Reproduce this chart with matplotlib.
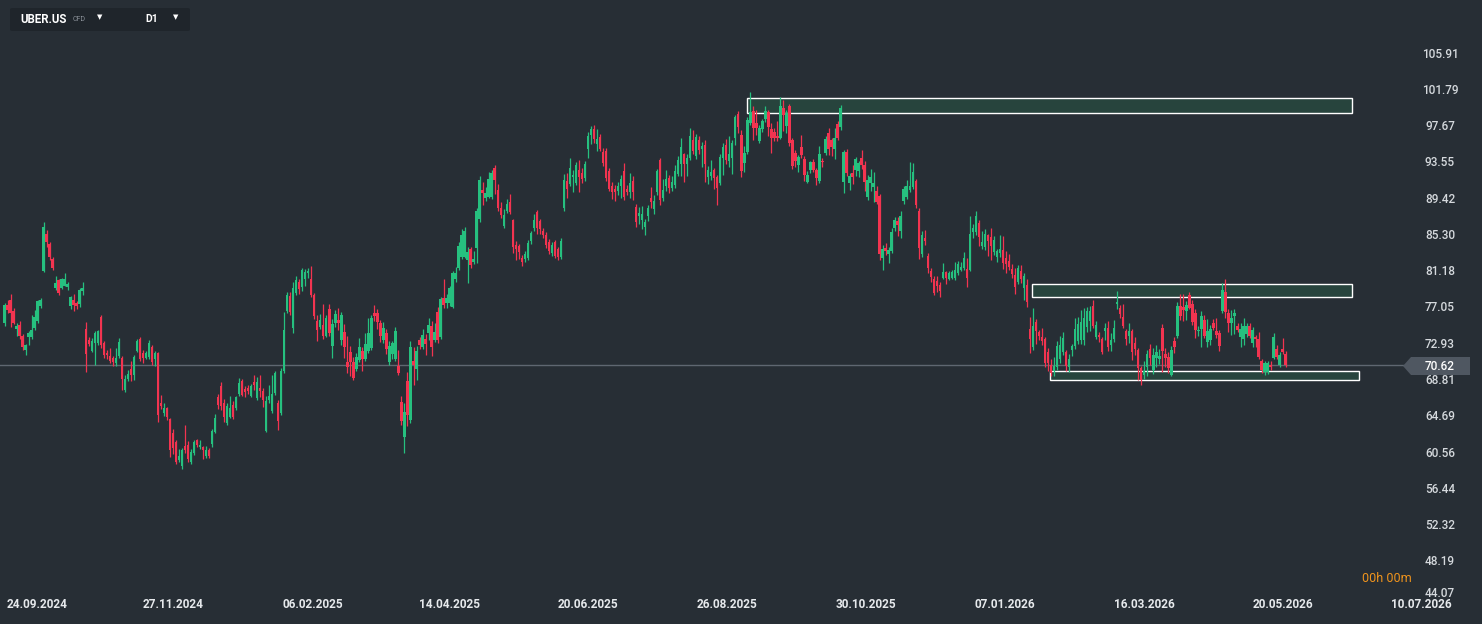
import matplotlib
matplotlib.use("Agg")
import matplotlib.pyplot as plt
import numpy as np
from matplotlib.patches import Rectangle, FancyBboxPatch, Polygon

# daily candles (oldest -> newest)
opens = [
    75.4, 77.4, 78.0, 76.7, 74.7, 75.1, 73.9, 72.3, 73.7, 73.7,
    74.8, 75.6, 77.3, 81.25, 85.45, 84.3, 82.6, 79.3, 80.2, 79.3,
    79.6, 79.4, 77.3, 77.95, 77.6, 77.5, 79.0, 74.7, 73.4, 72.2,
    73.1, 73.1, 76.0, 73.1, 71.9, 71.6, 71.4, 70.8, 71.6, 71.4,
    67.7, 69.0, 70.1, 69.4, 72.2, 73.5, 71.9, 71.4, 71.5, 72.6,
    71.3, 71.9, 66.3, 65.1, 65.7, 64.4, 62.8, 61.8, 59.8, 59.1,
    61.4, 61.5, 59.55, 60.6, 62.0, 61.2, 61.2, 60.2, 60.9, 61.6,
    63.0, 66.9, 68.2, 66.25, 63.96, 64.7, 66.0, 65.7, 67.3, 68.8,
    67.8, 68.0, 67.05, 68.6, 66.8, 68.0, 67.6, 63.07, 66.6, 65.35,
    67.4, 66.25, 65.1, 69.9, 76.7, 78.4, 74.8, 78.75, 80.0, 79.4,
    80.3, 81.0, 80.4, 78.5, 75.6, 74.9, 75.1, 73.9, 76.9, 72.7,
    75.3, 75.7, 73.4, 74.3, 70.9, 72.0, 70.9, 70.1, 71.1, 72.2,
    71.25, 72.2, 72.5, 76.5, 76.5, 75.35, 73.4, 74.2, 70.9, 71.8,
    71.25, 70.45, 66.36, 62.4, 68.75, 64.3, 71.0, 70.1, 73.4, 72.6,
    73.5, 74.2, 75.0, 73.4, 76.6, 73.8, 78.2, 77.6, 77.6, 77.2,
    80.3, 81.6, 82.85, 82.9, 82.5, 83.75, 82.3, 83.9, 87.2, 90.45,
    89.55, 89.65, 89.65, 92.95, 90.45, 88.4, 86.4, 88.1, 89.1, 87.05,
    84.2, 84.1, 82.7, 82.6, 82.7, 84.7, 86.1, 87.95, 86.9, 85.8,
    85.4, 84.6, 83.3, 84.6, 83.8, 82.8, 88.4, 91.5, 91.1, 91.9,
    91.25, 92.7, 92.4, 91.8, 95.1, 96.7, 97.4, 95.7, 96.5, 94.8,
    94.9, 92.6, 90.9, 90.6, 90.4, 90.9, 92.6, 90.6, 90.2, 91.5,
    88.5, 87.5, 87.05, 86.25, 87.5, 89.55, 88.3, 90.2, 93.9, 89.55,
    90.9, 91.8, 90.7, 91.0, 92.3, 93.4, 94.5, 93.4, 94.1, 96.1,
    94.3, 96.1, 95.1, 95.6, 91.9, 92.1, 92.7, 91.9, 91.25, 94.1,
    95.6, 93.75, 94.1, 96.4, 99.1, 96.7, 93.5, 94.8, 98.07, 99.4,
    98.07, 96.0, 97.4, 98.5, 99.3, 97.4, 97.0, 96.6, 96.4, 99.8,
    97.7, 100.0, 96.1, 94.7, 93.3, 95.35, 94.0, 91.4, 92.7, 93.6,
    92.7, 91.5, 93.8, 94.7, 96.9, 96.1, 95.1, 97.95, 97.6, 91.4,
    94.8, 91.25, 92.4, 92.7, 92.6, 94.1, 93.3, 89.65, 91.25, 90.8,
    90.3, 89.8, 82.7, 83.9, 83.2, 83.5, 86.1, 86.9, 85.8, 89.2,
    89.65, 90.5, 90.8, 91.5, 88.07, 83.2, 85.0, 82.95, 81.25, 80.3,
    80.1, 79.7, 80.45, 81.1, 80.4, 80.5, 80.45, 81.0, 81.4, 81.6,
    81.5, 81.4, 85.7, 85.7, 86.7, 84.1, 84.0, 85.3, 85.1, 83.4,
    82.85, 83.3, 83.6, 82.7, 82.4, 81.5, 80.8, 80.0, 81.2, 79.3,
    79.7, 74.7, 72.6, 75.45, 74.3, 73.7, 73.5, 72.1, 70.6, 69.9,
    70.35, 71.25, 72.05, 72.05, 70.35, 72.3, 72.7, 73.3, 73.4, 73.4,
    74.9, 75.6, 77.3, 73.8, 74.0, 73.5, 74.4, 74.8, 72.9, 73.5,
    77.5, 77.0, 76.0, 74.45, 73.9, 74.45, 73.1, 72.3, 70.2, 69.4,
    70.35, 72.4, 70.0, 71.4, 71.2, 74.8, 71.8, 71.5, 69.4, 73.3,
    73.9, 77.3, 77.2, 76.7, 78.5, 77.5, 76.5, 74.4, 74.7, 75.7,
    73.2, 73.4, 75.35, 74.4, 74.2, 76.7, 78.9, 76.5, 75.35, 76.1,
    75.0, 73.8, 73.5, 74.1, 75.0, 73.07, 73.8, 73.5, 71.0, 69.8,
    69.8, 70.6, 71.4, 72.4, 70.6, 72.4, 71.8,
]
closes = [
    77.4, 76.8, 76.5, 75.4, 75.0, 73.9, 72.6, 72.8, 74.2, 74.5,
    76.0, 77.8, 77.95, 86.25, 84.55, 82.85, 81.6, 79.9, 78.75, 80.3,
    80.3, 79.8, 78.3, 77.4, 77.3, 79.1, 79.3, 71.8, 73.0, 73.3,
    74.2, 74.4, 72.8, 71.7, 71.7, 71.0, 70.9, 71.4, 73.2, 69.0,
    69.0, 69.5, 69.4, 71.5, 73.3, 71.3, 71.4, 71.9, 73.1, 70.9,
    71.9, 64.9, 65.9, 65.7, 64.7, 60.9, 61.1, 59.55, 60.2, 60.9,
    60.9, 59.9, 60.7, 61.8, 61.5, 61.5, 60.9, 60.9, 60.2, 63.07,
    64.6, 66.0, 65.9, 64.7, 65.9, 65.7, 64.65, 66.9, 68.5, 67.2,
    67.5, 67.6, 68.2, 68.3, 68.6, 67.6, 66.6, 66.5, 67.0, 67.3,
    69.66, 64.2, 69.9, 74.55, 78.5, 76.6, 79.3, 80.2, 79.2, 81.4,
    81.1, 81.3, 78.5, 76.1, 74.55, 75.7, 73.9, 75.9, 74.2, 75.2,
    76.4, 75.4, 76.25, 72.6, 70.35, 70.9, 69.1, 71.5, 72.6, 71.3,
    72.95, 74.2, 75.9, 76.1, 75.5, 73.9, 74.8, 72.4, 72.7, 73.07,
    74.4, 69.66, 64.2, 65.2, 64.9, 72.6, 70.6, 72.2, 72.8, 74.0,
    73.0, 75.1, 72.6, 74.3, 73.4, 78.07, 77.4, 78.2, 79.3, 81.0,
    81.0, 84.1, 85.35, 85.8, 83.4, 81.9, 82.6, 88.07, 91.6, 90.1,
    90.1, 91.7, 92.4, 91.6, 88.4, 87.6, 87.6, 88.9, 87.95, 83.98,
    83.75, 83.4, 82.3, 83.2, 84.4, 85.6, 87.05, 86.1, 86.0, 85.35,
    84.2, 83.5, 84.2, 83.0, 82.8, 84.7, 91.6, 90.6, 92.95, 92.2,
    93.3, 91.9, 91.7, 93.4, 96.6, 97.4, 96.25, 96.25, 95.1, 93.5,
    91.8, 90.6, 90.2, 90.2, 90.95, 91.7, 89.65, 90.2, 91.25, 90.2,
    86.8, 87.8, 87.7, 86.8, 88.4, 89.1, 89.2, 92.6, 89.3, 90.45,
    91.7, 90.7, 91.4, 92.6, 93.9, 95.35, 93.4, 94.1, 96.6, 94.9,
    96.5, 95.0, 95.5, 93.4, 92.7, 92.5, 91.8, 90.7, 94.2, 95.35,
    93.9, 94.5, 95.8, 98.75, 97.6, 92.6, 94.7, 98.4, 99.3, 97.5,
    97.5, 97.5, 98.3, 99.4, 97.6, 96.4, 96.4, 96.4, 100.0, 99.0,
    99.2, 95.8, 93.2, 93.75, 94.2, 94.4, 92.2, 92.2, 93.6, 92.7,
    91.8, 94.5, 93.6, 96.25, 95.1, 95.3, 96.4, 96.4, 99.8, 94.8,
    92.4, 92.05, 91.9, 94.0, 93.5, 93.3, 91.4, 91.6, 91.9, 91.2,
    89.1, 83.2, 83.75, 83.5, 83.6, 85.7, 87.05, 86.5, 87.5, 90.6,
    90.9, 90.9, 92.5, 88.75, 83.9, 85.35, 84.7, 81.6, 80.6, 78.75,
    79.5, 79.0, 81.1, 80.5, 81.0, 81.1, 81.4, 82.05, 81.7, 82.7,
    80.45, 85.45, 86.1, 87.5, 85.1, 84.55, 85.45, 84.7, 84.1, 84.75,
    83.5, 83.7, 82.15, 82.05, 81.7, 80.9, 79.4, 81.6, 80.3, 80.7,
    77.7, 73.5, 75.0, 74.45, 73.9, 73.3, 70.8, 70.8, 69.66, 70.5,
    72.7, 72.85, 73.6, 70.45, 71.25, 72.7, 74.7, 75.25, 75.45, 75.9,
    76.7, 76.7, 75.0, 75.1, 73.7, 72.05, 74.8, 72.6, 73.4, 74.8,
    77.7, 76.4, 75.0, 73.5, 74.45, 72.05, 72.4, 70.2, 68.9, 69.9,
    71.8, 71.4, 71.7, 72.1, 71.6, 72.2, 71.4, 70.2, 72.3, 72.6,
    77.3, 76.1, 76.8, 77.4, 77.05, 75.45, 74.55, 74.6, 76.1, 73.9,
    74.45, 74.7, 74.8, 74.0, 72.7, 79.1, 76.6, 75.35, 75.9, 76.5,
    74.6, 74.7, 75.0, 75.0, 73.9, 74.55, 73.5, 71.5, 70.0, 70.8,
    70.8, 70.4, 73.8, 71.5, 71.7, 72.05, 70.62,
]
highs = [
    77.6, 78.0, 78.6, 77.0, 75.4, 75.6, 74.1, 73.0, 74.4, 76.3,
    76.8, 78.0, 78.2, 86.8, 85.9, 84.5, 82.9, 80.7, 80.4, 80.5,
    81.0, 80.0, 78.4, 78.6, 77.8, 79.3, 80.0, 75.5, 73.8, 73.6,
    74.4, 74.6, 76.3, 73.3, 72.3, 72.5, 71.6, 72.5, 73.6, 71.6,
    69.4, 70.0, 71.0, 71.7, 73.5, 73.7, 72.3, 72.2, 73.4, 72.8,
    72.2, 72.0, 67.2, 66.2, 65.8, 64.5, 63.3, 62.0, 61.0, 61.1,
    63.7, 61.9, 61.0, 62.0, 62.2, 62.0, 61.4, 61.4, 61.1, 63.3,
    65.0, 67.3, 68.6, 66.7, 66.2, 67.0, 66.5, 67.1, 69.1, 69.0,
    68.2, 68.3, 68.4, 69.4, 69.2, 69.45, 68.0, 67.0, 68.3, 69.4,
    69.9, 66.6, 70.2, 76.6, 78.9, 78.9, 80.0, 80.7, 80.3, 81.6,
    81.5, 81.6, 81.8, 78.7, 76.2, 76.4, 77.5, 76.2, 77.5, 75.8,
    76.8, 77.0, 76.6, 75.2, 73.9, 72.7, 71.5, 71.9, 73.6, 72.6,
    74.2, 75.9, 76.2, 77.4, 76.9, 75.7, 75.5, 74.7, 73.3, 73.3,
    74.9, 72.3, 67.0, 66.3, 69.8, 73.3, 72.6, 72.7, 73.7, 74.7,
    74.1, 75.9, 75.6, 75.4, 77.2, 78.3, 80.3, 78.6, 79.6, 81.3,
    81.7, 84.6, 86.0, 86.2, 84.0, 84.0, 83.5, 88.4, 92.1, 91.4,
    90.8, 92.5, 92.7, 93.3, 91.1, 89.1, 88.3, 89.4, 90.0, 87.2,
    84.7, 84.3, 83.1, 83.5, 84.8, 85.8, 87.7, 88.2, 87.2, 86.1,
    85.7, 84.9, 84.5, 84.8, 84.0, 85.0, 92.3, 92.4, 94.1, 92.7,
    93.6, 93.9, 93.0, 93.8, 97.1, 97.7, 97.9, 97.4, 96.8, 95.2,
    95.2, 93.0, 91.4, 91.0, 91.4, 92.2, 93.5, 91.0, 92.4, 92.05,
    88.9, 88.5, 88.6, 87.2, 88.7, 90.8, 89.9, 92.9, 94.1, 91.7,
    92.7, 92.2, 92.0, 93.3, 94.3, 96.4, 94.7, 94.6, 97.5, 97.3,
    96.8, 96.6, 95.9, 96.1, 93.2, 93.9, 93.0, 92.2, 94.5, 95.8,
    96.2, 96.6, 96.1, 99.0, 99.4, 97.3, 95.5, 98.7, 101.6, 100.0,
    99.55, 97.8, 98.5, 100.0, 99.6, 98.07, 97.5, 98.3, 101.0, 100.7,
    99.5, 100.2, 96.4, 95.0, 94.4, 96.7, 94.3, 92.6, 93.8, 94.0,
    93.0, 95.5, 94.1, 96.6, 97.5, 96.4, 97.5, 98.3, 100.1, 95.0,
    95.1, 92.4, 93.3, 94.2, 93.8, 95.0, 93.7, 92.2, 92.8, 92.5,
    90.9, 90.0, 84.2, 84.4, 84.0, 86.1, 87.4, 87.4, 88.1, 90.9,
    91.6, 93.6, 93.5, 91.7, 88.4, 85.8, 85.9, 83.3, 81.6, 80.7,
    80.7, 80.0, 82.2, 81.3, 81.2, 81.4, 82.3, 82.4, 82.3, 83.4,
    82.7, 87.5, 86.6, 88.07, 87.0, 85.8, 86.0, 85.5, 86.1, 85.2,
    83.7, 85.35, 85.2, 83.5, 83.2, 82.0, 81.6, 81.9, 81.9, 81.0,
    80.3, 76.0, 77.05, 75.8, 74.6, 74.8, 73.8, 72.5, 71.2, 71.5,
    73.3, 73.9, 74.3, 72.3, 71.8, 73.0, 75.9, 76.0, 76.8, 77.0,
    77.2, 77.3, 77.95, 75.6, 74.3, 73.8, 75.3, 75.6, 74.2, 75.7,
    79.0, 77.4, 77.5, 74.7, 75.4, 74.7, 73.8, 72.5, 70.5, 71.0,
    72.3, 73.0, 72.5, 72.8, 72.4, 75.2, 72.5, 72.0, 72.7, 73.8,
    77.7, 78.6, 78.6, 77.9, 78.9, 78.0, 76.9, 75.0, 76.7, 76.3,
    75.8, 75.1, 75.8, 75.9, 74.5, 79.9, 80.3, 76.9, 76.8, 76.9,
    75.3, 75.4, 75.9, 75.3, 75.3, 74.9, 74.0, 74.3, 71.3, 71.0,
    71.0, 71.0, 74.2, 72.9, 72.0, 73.6, 72.2,
]
lows = [
    75.0, 76.5, 74.9, 75.2, 73.9, 73.5, 72.3, 71.7, 72.9, 73.5,
    74.6, 75.4, 77.0, 81.1, 84.0, 82.5, 81.4, 79.1, 78.5, 79.2,
    79.5, 79.1, 76.9, 76.7, 76.9, 77.2, 78.5, 69.8, 72.7, 72.0,
    70.6, 72.9, 72.5, 71.4, 71.2, 70.8, 70.5, 70.5, 71.4, 67.7,
    67.5, 68.7, 68.8, 68.9, 72.0, 71.0, 70.8, 71.2, 71.3, 70.6,
    70.5, 64.1, 65.6, 64.8, 64.3, 60.1, 60.5, 59.3, 59.5, 58.8,
    60.6, 59.6, 59.3, 60.4, 61.2, 61.0, 59.9, 60.0, 60.0, 61.2,
    62.8, 65.6, 65.5, 64.1, 63.7, 64.5, 64.4, 65.5, 67.0, 67.0,
    66.9, 67.3, 66.9, 67.7, 66.6, 66.9, 65.8, 63.0, 66.2, 65.1,
    67.2, 63.2, 64.9, 69.7, 76.5, 76.2, 74.2, 78.5, 78.6, 79.0,
    79.6, 80.5, 78.3, 75.8, 73.3, 74.7, 73.5, 73.7, 73.9, 71.4,
    74.9, 74.6, 72.8, 71.4, 69.7, 69.3, 68.9, 69.9, 70.9, 69.9,
    71.0, 71.9, 72.3, 75.6, 74.7, 73.2, 73.1, 71.8, 70.6, 71.3,
    71.0, 69.4, 63.7, 60.6, 63.6, 64.0, 68.3, 68.9, 72.4, 72.4,
    71.7, 73.4, 71.6, 73.2, 73.1, 73.5, 77.0, 77.1, 77.3, 77.0,
    80.0, 81.4, 82.6, 82.7, 79.9, 81.6, 82.1, 82.2, 86.8, 88.8,
    89.2, 89.5, 89.4, 90.0, 88.1, 87.3, 86.1, 87.8, 87.7, 83.3,
    82.5, 82.6, 81.8, 82.3, 82.5, 84.3, 85.8, 85.5, 85.5, 85.0,
    83.9, 83.2, 83.0, 82.7, 82.5, 82.6, 88.1, 89.6, 90.9, 90.2,
    91.0, 90.2, 91.3, 91.5, 94.1, 95.7, 95.8, 94.9, 94.9, 93.2,
    91.5, 90.3, 89.4, 89.2, 89.9, 89.6, 89.3, 89.9, 89.6, 89.3,
    86.25, 86.6, 86.0, 85.3, 86.9, 88.4, 87.7, 89.9, 88.8, 89.2,
    90.3, 90.1, 90.3, 90.7, 92.0, 92.1, 91.4, 92.1, 93.9, 94.5,
    94.0, 94.5, 93.1, 91.4, 91.1, 91.6, 90.6, 88.75, 91.0, 92.2,
    93.4, 93.1, 92.3, 95.6, 96.9, 91.9, 92.5, 94.5, 97.8, 96.1,
    96.7, 95.8, 97.1, 98.2, 96.6, 94.7, 96.0, 96.0, 96.2, 97.2,
    96.9, 95.5, 92.9, 93.1, 92.5, 94.1, 91.5, 91.2, 92.4, 92.5,
    91.0, 91.3, 93.1, 94.4, 94.4, 94.3, 94.0, 96.1, 97.3, 90.1,
    92.0, 90.45, 91.1, 92.1, 91.9, 92.9, 90.3, 89.3, 90.4, 89.1,
    88.9, 82.5, 81.4, 83.1, 82.2, 83.3, 85.8, 85.2, 85.0, 88.9,
    89.4, 90.2, 90.6, 88.4, 82.6, 82.9, 84.2, 81.0, 80.0, 78.5,
    78.9, 78.3, 80.3, 79.8, 80.2, 80.3, 80.2, 80.8, 81.2, 81.4,
    79.4, 81.2, 85.0, 85.4, 84.1, 83.8, 83.6, 83.0, 82.5, 83.1,
    82.3, 82.85, 81.5, 81.0, 81.4, 80.5, 78.6, 79.8, 79.9, 78.0,
    77.2, 71.95, 72.3, 73.0, 73.4, 72.8, 70.4, 69.9, 69.3, 69.3,
    70.0, 70.8, 71.7, 69.9, 69.8, 71.6, 72.4, 73.0, 73.0, 72.9,
    74.3, 74.4, 74.8, 73.5, 73.2, 71.8, 73.4, 72.2, 72.2, 73.2,
    76.9, 75.9, 74.8, 72.8, 73.1, 71.1, 71.7, 68.9, 68.3, 69.0,
    69.3, 70.6, 69.55, 70.3, 70.7, 69.8, 70.4, 69.7, 69.3, 71.9,
    73.6, 75.7, 75.6, 75.7, 76.9, 75.1, 73.6, 73.9, 72.6, 73.6,
    72.6, 72.9, 74.5, 73.6, 72.2, 76.5, 75.9, 74.3, 73.95, 74.1,
    74.3, 72.6, 72.9, 73.7, 73.6, 72.6, 72.6, 71.2, 69.7, 69.4,
    69.5, 70.0, 71.2, 71.2, 70.3, 71.8, 70.3,
]
assert len(opens) == len(closes) == len(highs) == len(lows), (
    len(opens), len(closes), len(highs), len(lows))

last_price = 70.62
price_ticks = [105.91, 101.79, 97.67, 93.55, 89.42, 85.30, 81.18, 77.05,
               72.93, 68.81, 64.69, 60.56, 56.44, 52.32, 48.19, 44.07]
date_labels = ['24.09.2024', '27.11.2024', '06.02.2025', '14.04.2025',
               '20.06.2025', '26.08.2025', '30.10.2025', '07.01.2026',
               '16.03.2026', '20.05.2026', '10.07.2026']
date_idx = [11, 56, 102.5, 148, 194, 240.3, 286.5, 332.7, 379, 425, 471]

# zones: (start index, end index, low, high)
zones = [
    (246.9, 448.1, 99.17, 100.91),
    (341.7, 448.1, 78.26, 79.74),
    (347.7, 450.4, 68.86, 69.89),
]

BG = '#272e35'
GREEN = '#26c07f'
RED = '#f23450'

plt.rcParams['font.family'] = ['Roboto', 'DejaVu Sans']
fig = plt.figure(figsize=(14.82, 6.24), dpi=100)
fig.patch.set_facecolor(BG)
ax = fig.add_axes([0, 0, 1, 1])
ax.set_facecolor(BG)
for s in ax.spines.values():
    s.set_visible(False)
ax.set_xticks([])
ax.set_yticks([])

o = np.array(opens)
c = np.array(closes)
h = np.maximum(np.array(highs), np.maximum(o, c))
l = np.minimum(np.array(lows), np.minimum(o, c))
x = np.arange(len(o))
up = c >= o
cols = np.where(up, GREEN, RED)

# zones behind the candles
for x0, x1, lo, hi in zones:
    ax.add_patch(Rectangle((x0, lo), x1 - x0, hi - lo, facecolor='#27443d',
                           edgecolor='white', linewidth=1.0, zorder=1))

# last price line
ax.axhline(last_price, xmin=0, xmax=1410 / 1482, color='#5f6771', lw=1, zorder=1.5)

ax.vlines(x, l, h, colors=cols, linewidth=0.9, zorder=2)
body = np.maximum(np.abs(c - o), 0.08)
ax.bar(x, body, bottom=np.minimum(o, c), width=0.8, color=cols, linewidth=0, zorder=3)

ax.set_xlim(-1.5, 491.3)
ax.set_ylim(41.14, 112.05)

# price axis labels (the lowest one is pushed up off the bottom edge)
ytr = ax.get_yaxis_transform()
for v in price_ticks:
    ax.text(1440 / 1482, max(v, 44.55), f'{v:.2f}', transform=ytr, ha='center',
            va='center', color='#d5d9dd', fontsize=8.5, fontweight='medium')

# date labels
xtr = ax.get_xaxis_transform()
for xi, lab in zip(date_idx, date_labels):
    ax.text(xi, 19 / 624, lab, transform=xtr, ha='center', va='center',
            color='#e6e9ec', fontsize=8.5, fontweight='bold')

# last price tag
W, H = 1482, 624
tag = Polygon([(1403 / W, 1 - 366 / H), (1411 / W, 1 - 357 / H), (1470 / W, 1 - 357 / H),
               (1470 / W, 1 - 375 / H), (1411 / W, 1 - 375 / H)],
              closed=True, transform=fig.transFigure, facecolor='#4f5761',
              edgecolor='none', zorder=1)
fig.patches.append(tag)
fig.text(1440 / W, 1 - 366 / H, f'{last_price:.2f}', ha='center', va='center',
         color='white', fontsize=8.5, fontweight='medium', zorder=2)

# countdown
fig.text(1387 / W, 1 - 579 / H, '00h 00m', ha='center', va='center',
         color='#f0941d', fontsize=9, zorder=2)

# header box
hdr = FancyBboxPatch((10 / W, 1 - 31 / H), 180 / W, 23 / H,
                     boxstyle='round,pad=0,rounding_size=0.002',
                     transform=fig.transFigure, facecolor='#1f252b',
                     edgecolor='none', zorder=1)
fig.patches.append(hdr)
fig.text(20 / W, 1 - 19.5 / H, 'UBER.US', ha='left', va='center', color='white',
         fontsize=8.3, fontweight='bold', zorder=2)
fig.text(73 / W, 1 - 19.5 / H, 'CFD', ha='left', va='center', color='#8a9098',
         fontsize=5, zorder=2)
fig.text(100 / W, 1 - 17.5 / H, '\u25BC', ha='center', va='center', color='white',
         fontsize=5, family='DejaVu Sans', zorder=2)
fig.text(145 / W, 1 - 19.5 / H, 'D1', ha='left', va='center', color='white',
         fontsize=7.5, fontweight='bold', zorder=2)
fig.text(176 / W, 1 - 17.5 / H, '\u25BC', ha='center', va='center', color='white',
         fontsize=5, family='DejaVu Sans', zorder=2)

fig.savefig('out.png', dpi=100, facecolor=BG)
